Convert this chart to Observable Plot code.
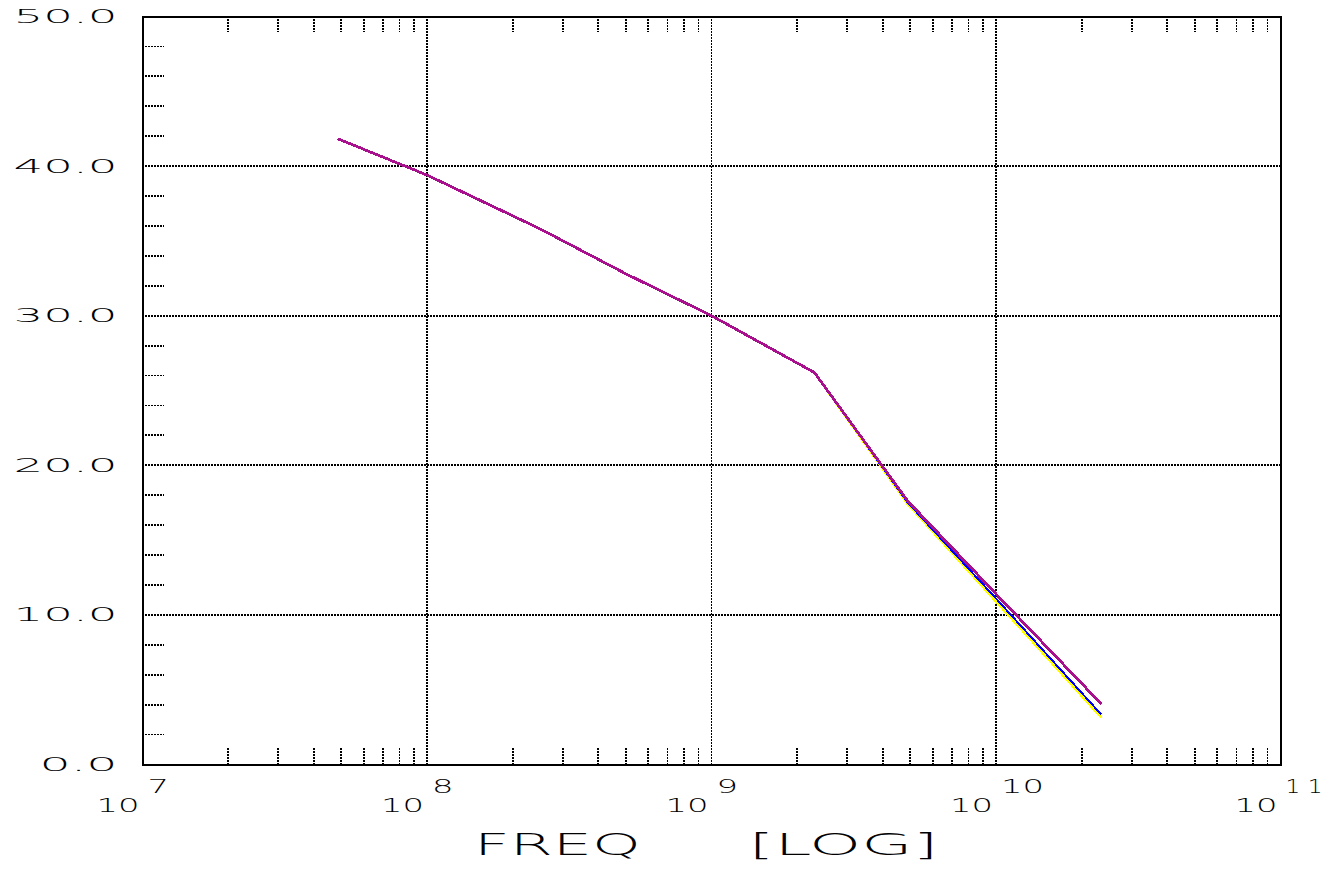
<!DOCTYPE html>
<html>
<head>
<meta charset="utf-8">
<script src="https://cdn.jsdelivr.net/npm/d3@7"></script>
<script src="https://cdn.jsdelivr.net/npm/@observablehq/plot@0.6"></script>
<style>
  html, body { margin: 0; padding: 0; background: #fff; }
  #chart svg { display: block; }
</style>
</head>
<body>
<div id="chart"></div>
<script>
// ---- data ----
const freq = [4.9e7, 1e8, 2.5e8, 5e8, 1e9, 2.3e9, 4.9e9, 1e10, 2.33e10];
const seriesPurple = [41.8, 39.4, 35.8, 32.8, 30.0, 26.2, 17.6, 11.4, 4.1];
const seriesBlue   = [41.8, 39.4, 35.8, 32.8, 30.0, 26.2, 17.5, 11.1, 3.4];
const seriesYellow = [41.8, 39.4, 35.8, 32.8, 30.0, 26.2, 17.4, 10.9, 3.2];
const seriesNames = ["yellow", "blue", "purple"];
const seriesColors = ["#ffff00", "#0000ff", "#a8108e"];
const seriesWidths = [2.6, 2, 2.8];
const xMajorTicks = [1e7, 1e8, 1e9, 1e10, 1e11];
const xExponents = ["7", "8", "9", "10", "1 1"];
const yMajorTicks = [0, 10, 20, 30, 40, 50];
const yMinorTicks = [2,4,6,8,12,14,16,18,22,24,26,28,32,34,36,38,42,44,46,48];
const xMinorTicks = [];
for (const decade of [1e7, 1e8, 1e9, 1e10]) for (const m of [2,3,4,5,6,7,8,9]) xMinorTicks.push(m * decade);
const xTitleParts = ["FREQ", "[LOG]"];

// long-form table
const table = [];
const allSeries = {yellow: seriesYellow, blue: seriesBlue, purple: seriesPurple};
for (const name of seriesNames) freq.forEach((f, i) => table.push({series: name, f, v: allSeries[name][i]}));

const W = 1335, H = 882;
const mL = 142, mR = 55, mT = 16, mB = 118;
const frameW = W - mL - mR, frameH = H - mT - mB;
const dots = "2,1";
const gridW = 1.8;

const lineMarks = seriesNames.map((name, i) =>
  Plot.line(table, {filter: d => d.series === name, x: "f", y: "v", stroke: seriesColors[i], strokeWidth: seriesWidths[i]})
);

const chart = Plot.plot({
  width: W, height: H,
  marginLeft: mL, marginRight: mR, marginTop: mT, marginBottom: mB,
  style: {fontFamily: "DejaVu Sans", fontSize: "20px", fontWeight: 200, background: "white", color: "black"},
  x: {type: "log", domain: [1e7, 1e11], axis: null},
  y: {domain: [0, 50], axis: null},
  marks: [
    Plot.gridX(xMajorTicks, {stroke: "black", strokeOpacity: 1, strokeWidth: gridW, strokeDasharray: dots}),
    Plot.gridY(yMajorTicks, {stroke: "black", strokeOpacity: 1, strokeWidth: gridW, strokeDasharray: dots}),
    Plot.tickX(xMinorTicks, {x: d => d, stroke: "black", strokeWidth: gridW, strokeDasharray: dots, insetBottom: frameH - 16}),
    Plot.tickX(xMinorTicks, {x: d => d, stroke: "black", strokeWidth: gridW, strokeDasharray: dots, insetTop: frameH - 16}),
    Plot.tickY(yMinorTicks, {y: d => d, stroke: "black", strokeWidth: gridW, strokeDasharray: dots, insetRight: frameW - 22}),
    ...lineMarks,
    Plot.frame({stroke: "black", strokeWidth: 2}),
    // y tick labels
    Plot.text(yMajorTicks, {y: d => d, text: d => d3.format(".1f")(d), frameAnchor: "left", textAnchor: "end", dx: -25, fill: "black"}),
    // x tick labels: base and exponent
    Plot.text(xMajorTicks, {x: d => d, text: () => "10", frameAnchor: "bottom", textAnchor: "end", dx: -3, dy: 47, fill: "black"}),
    Plot.text(xMajorTicks, {x: d => d, text: (d, i) => xExponents[i], frameAnchor: "bottom", textAnchor: "start", dx: 5, dy: 28, fill: "black"}),
    // axis title, in two words as in the reference
    Plot.text([xTitleParts[0]], {text: d => d, frameAnchor: "bottom", dy: 90, dx: -154, fontSize: 30, fill: "black"}),
    Plot.text([xTitleParts[1]], {text: d => d, frameAnchor: "bottom", dy: 90, dx: 132, fontSize: 30, fill: "black"})
  ]
});

// stretch the glyphs to the wide plotter-style lettering of the reference
chart.querySelectorAll("text").forEach(t => {
  const s = t.textContent;
  let len = null;
  if (s === xTitleParts[0]) len = 167;
  else if (s === xTitleParts[1]) len = 190;
  else if (/^\d+\.\d$/.test(s)) len = s.length * 26;
  else if (s === "1 1") { len = 37; t.style.whiteSpace = "pre"; }
  else if (/^\d+$/.test(s)) len = s.length * 21.5;
  if (len) {
    t.setAttribute("textLength", len);
    t.setAttribute("lengthAdjust", "spacingAndGlyphs");
  }
});
// hard-edged, un-antialiased strokes like the plotter output
chart.querySelectorAll("path, line, rect").forEach(el => el.setAttribute("shape-rendering", "crispEdges"));

document.getElementById("chart").appendChild(chart);
</script>
</body>
</html>
